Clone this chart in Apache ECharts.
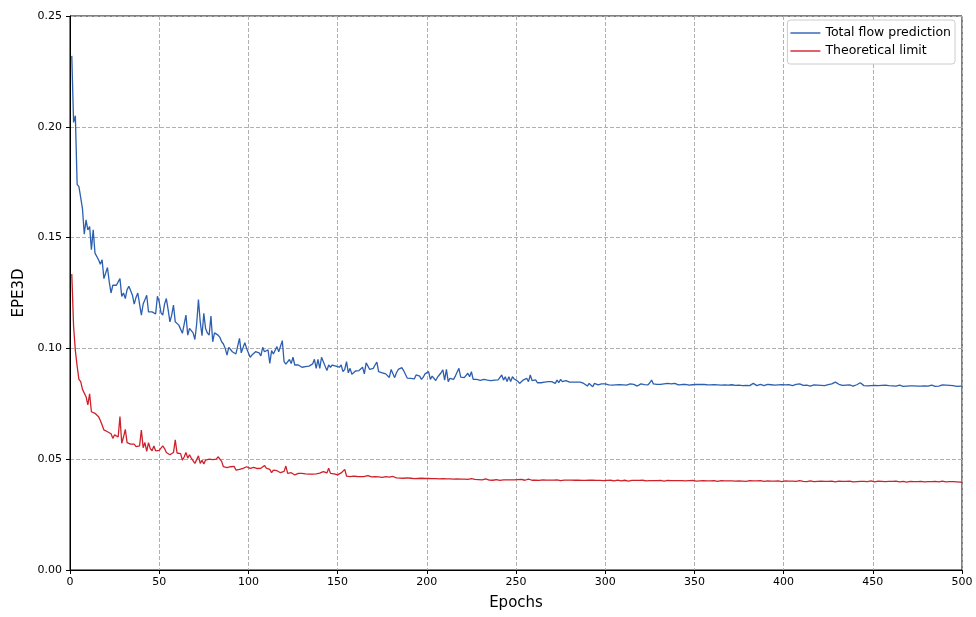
<!DOCTYPE html>
<html>
<head>
<meta charset="utf-8">
<script src="https://cdn.jsdelivr.net/npm/echarts@6/dist/echarts.min.js"></script>
<style>
    html, body { margin: 0; padding: 0; background: #fff; }
    #epeChart { width: 976px; height: 617px; }
</style>
</head>
<body>
<div id="epeChart"></div>
<script>
// EPE3D per epoch (epoch 1..500)
let totalFlow = [
    0.2320, 0.2020, 0.2050, 0.1740, 0.1730, 0.1680, 0.1630, 0.1515, 0.1580, 0.1535,
    0.1550, 0.1445, 0.1535, 0.1430, 0.1430, 0.1400, 0.1380, 0.1400, 0.1315, 0.1320,
    0.1365, 0.1300, 0.1250, 0.1285, 0.1290, 0.1285, 0.1290, 0.1315, 0.1235, 0.1250,
    0.1225, 0.1265, 0.1280, 0.1260, 0.1240, 0.1200, 0.1230, 0.1250, 0.1200, 0.1150,
    0.1200, 0.1220, 0.1240, 0.1165, 0.1170, 0.1165, 0.1160, 0.1155, 0.1235, 0.1210,
    0.1160, 0.1150, 0.1200, 0.1225, 0.1175, 0.1120, 0.1150, 0.1195, 0.1120, 0.1120,
    0.1105, 0.1110, 0.1068, 0.1110, 0.1150, 0.1060, 0.1090, 0.1085, 0.1070, 0.1040,
    0.1110, 0.1220, 0.1120, 0.1057, 0.1158, 0.1090, 0.1070, 0.1060, 0.1146, 0.1030,
    0.1070, 0.1075, 0.1060, 0.1050, 0.1030, 0.1020, 0.1000, 0.0970, 0.1005, 0.0995,
    0.0985, 0.0978, 0.0975, 0.0975, 0.1045, 0.0980, 0.0978, 0.1026, 0.1000, 0.0993,
    0.0960, 0.0970, 0.0975, 0.0985, 0.0993, 0.0980, 0.0966, 0.1005, 0.0985, 0.0978,
    0.0993, 0.0932, 0.0990, 0.0975, 0.0978, 0.1008, 0.0985, 0.1010, 0.1035, 0.0940,
    0.0929, 0.0935, 0.0950, 0.0932, 0.0960, 0.0925, 0.0925, 0.0925, 0.0922, 0.0915,
    0.0907, 0.0918, 0.0910, 0.0920, 0.0925, 0.0930, 0.0951, 0.0910, 0.0951, 0.0910,
    0.0960, 0.0940, 0.0920, 0.0900, 0.0925, 0.0915, 0.0925, 0.0924, 0.0920, 0.0920,
    0.0915, 0.0925, 0.0895, 0.0905, 0.0940, 0.0890, 0.0910, 0.0883, 0.0890, 0.0898,
    0.0895, 0.0900, 0.0903, 0.0915, 0.0885, 0.0935, 0.0920, 0.0905, 0.0900, 0.0910,
    0.0925, 0.0938, 0.0895, 0.0895, 0.0890, 0.0888, 0.0885, 0.0880, 0.0869, 0.0905,
    0.0910, 0.0868, 0.0890, 0.0905, 0.0910, 0.0913, 0.0900, 0.0905, 0.0866, 0.0860,
    0.0865, 0.0868, 0.0862, 0.0880, 0.0885, 0.0875, 0.0860, 0.0870, 0.0885, 0.0878,
    0.0895, 0.0860, 0.0875, 0.0880, 0.0855, 0.0870, 0.0880, 0.0890, 0.0903, 0.0857,
    0.0905, 0.0850, 0.0865, 0.0870, 0.0860, 0.0875, 0.0880, 0.0910, 0.0870, 0.0870,
    0.0868, 0.0865, 0.0888, 0.0872, 0.0895, 0.0860, 0.0862, 0.0860, 0.0858, 0.0856,
    0.0857, 0.0860, 0.0860, 0.0857, 0.0858, 0.0855, 0.0860, 0.0857, 0.0855, 0.0858,
    0.0854, 0.0880, 0.0857, 0.0872, 0.0850, 0.0872, 0.0850, 0.0872, 0.0862, 0.0857,
    0.0852, 0.0842, 0.0850, 0.0857, 0.0850, 0.0865, 0.0850, 0.0880, 0.0855, 0.0862,
    0.0858, 0.0845, 0.0842, 0.0845, 0.0845, 0.0848, 0.0848, 0.0850, 0.0852, 0.0850,
    0.0857, 0.0842, 0.0857, 0.0845, 0.0860, 0.0850, 0.0845, 0.0855, 0.0850, 0.0848,
    0.0852, 0.0848, 0.0850, 0.0848, 0.0845, 0.0848, 0.0845, 0.0842, 0.0845, 0.0830,
    0.0842, 0.0835, 0.0827, 0.0842, 0.0838, 0.0835, 0.0842, 0.0840, 0.0842, 0.0840,
    0.0838, 0.0835, 0.0836, 0.0834, 0.0838, 0.0835, 0.0833, 0.0836, 0.0838, 0.0835,
    0.0837, 0.0834, 0.0836, 0.0840, 0.0845, 0.0838, 0.0832, 0.0830, 0.0836, 0.0840,
    0.0846, 0.0837, 0.0840, 0.0835, 0.0845, 0.0857, 0.0840, 0.0835, 0.0838, 0.0845,
    0.0838, 0.0836, 0.0840, 0.0848, 0.0842, 0.0838, 0.0840, 0.0836, 0.0842, 0.0838,
    0.0835, 0.0840, 0.0837, 0.0833, 0.0838, 0.0836, 0.0834, 0.0838, 0.0836, 0.0835,
    0.0838, 0.0842, 0.0837, 0.0835, 0.0838, 0.0833, 0.0836, 0.0840, 0.0835, 0.0834,
    0.0836, 0.0833, 0.0835, 0.0837, 0.0834, 0.0832, 0.0835, 0.0838, 0.0834, 0.0832,
    0.0836, 0.0838, 0.0833, 0.0830, 0.0834, 0.0836, 0.0832, 0.0830, 0.0833, 0.0835,
    0.0832, 0.0838, 0.0842, 0.0835, 0.0832, 0.0836, 0.0838, 0.0834, 0.0832, 0.0836,
    0.0838, 0.0833, 0.0836, 0.0840, 0.0834, 0.0830, 0.0835, 0.0833, 0.0836, 0.0834,
    0.0835, 0.0833, 0.0836, 0.0834, 0.0832, 0.0835, 0.0838, 0.0836, 0.0840, 0.0835,
    0.0833, 0.0836, 0.0834, 0.0832, 0.0830, 0.0833, 0.0835, 0.0832, 0.0834, 0.0836,
    0.0833, 0.0835, 0.0832, 0.0834, 0.0836, 0.0838, 0.0840, 0.0843, 0.0848, 0.0842,
    0.0838, 0.0835, 0.0833, 0.0836, 0.0834, 0.0832, 0.0835, 0.0833, 0.0830, 0.0834,
    0.0836, 0.0840, 0.0845, 0.0836, 0.0832, 0.0834, 0.0831, 0.0828, 0.0832, 0.0830,
    0.0833, 0.0835, 0.0832, 0.0836, 0.0833, 0.0838, 0.0834, 0.0830, 0.0832, 0.0828,
    0.0831, 0.0833, 0.0830, 0.0832, 0.0834, 0.0831, 0.0829, 0.0832, 0.0830, 0.0833,
    0.0831, 0.0828, 0.0831, 0.0833, 0.0830, 0.0832, 0.0830, 0.0828, 0.0831, 0.0833,
    0.0830, 0.0832, 0.0834, 0.0831, 0.0829, 0.0832, 0.0830, 0.0833, 0.0835, 0.0838,
    0.0834, 0.0831, 0.0833, 0.0830, 0.0832, 0.0831, 0.0829, 0.0832, 0.0830, 0.0830
]

let theoreticalLimit = [
    0.1336, 0.1100, 0.0990, 0.0920, 0.0860, 0.0850, 0.0815, 0.0808, 0.0782, 0.0745,
    0.0795, 0.0714, 0.0720, 0.0707, 0.0705, 0.0692, 0.0675, 0.0654, 0.0632, 0.0640,
    0.0624, 0.0620, 0.0615, 0.0594, 0.0610, 0.0602, 0.0600, 0.0692, 0.0572, 0.0600,
    0.0635, 0.0575, 0.0572, 0.0568, 0.0565, 0.0568, 0.0557, 0.0552, 0.0560, 0.0632,
    0.0552, 0.0575, 0.0535, 0.0575, 0.0548, 0.0538, 0.0560, 0.0538, 0.0545, 0.0540,
    0.0550, 0.0560, 0.0548, 0.0530, 0.0528, 0.0520, 0.0528, 0.0530, 0.0587, 0.0528,
    0.0535, 0.0525, 0.0496, 0.0510, 0.0530, 0.0505, 0.0520, 0.0505, 0.0500, 0.0481,
    0.0498, 0.0515, 0.0481, 0.0495, 0.0478, 0.0496, 0.0492, 0.0500, 0.0495, 0.0498,
    0.0505, 0.0500, 0.0511, 0.0505, 0.0490, 0.0466, 0.0460, 0.0462, 0.0465, 0.0466,
    0.0462, 0.0468, 0.0451, 0.0454, 0.0454, 0.0458, 0.0459, 0.0463, 0.0466, 0.0472,
    0.0459, 0.0461, 0.0463, 0.0466, 0.0458, 0.0454, 0.0459, 0.0451, 0.0472, 0.0460,
    0.0457, 0.0454, 0.0439, 0.0451, 0.0444, 0.0448, 0.0454, 0.0439, 0.0444, 0.0445,
    0.0469, 0.0436, 0.0438, 0.0439, 0.0434, 0.0429, 0.0433, 0.0436, 0.0435, 0.0436,
    0.0436, 0.0434, 0.0433, 0.0433, 0.0432, 0.0433, 0.0432, 0.0434, 0.0436, 0.0437,
    0.0439, 0.0444, 0.0439, 0.0438, 0.0459, 0.0436, 0.0436, 0.0434, 0.0433, 0.0429,
    0.0436, 0.0438, 0.0444, 0.0454, 0.0424, 0.0423, 0.0421, 0.0422, 0.0424, 0.0423,
    0.0422, 0.0424, 0.0421, 0.0424, 0.0422, 0.0421, 0.0426, 0.0418, 0.0420, 0.0422,
    0.0421, 0.0423, 0.0420, 0.0429, 0.0418, 0.0420, 0.0421, 0.0423, 0.0419, 0.0421,
    0.0422, 0.0418, 0.0416, 0.0417, 0.0415, 0.0416, 0.0414, 0.0415, 0.0416, 0.0413,
    0.0414, 0.0415, 0.0412, 0.0414, 0.0413, 0.0411, 0.0414, 0.0412, 0.0413, 0.0411,
    0.0413, 0.0414, 0.0412, 0.0410, 0.0412, 0.0414, 0.0411, 0.0409, 0.0412, 0.0415,
    0.0411, 0.0409, 0.0411, 0.0413, 0.0410, 0.0408, 0.0411, 0.0409, 0.0410, 0.0408,
    0.0410, 0.0412, 0.0409, 0.0418, 0.0412, 0.0409, 0.0409, 0.0407, 0.0408, 0.0406,
    0.0407, 0.0409, 0.0411, 0.0408, 0.0406, 0.0407, 0.0405, 0.0407, 0.0408, 0.0406,
    0.0404, 0.0406, 0.0407, 0.0405, 0.0407, 0.0409, 0.0407, 0.0405, 0.0407, 0.0406,
    0.0408, 0.0407, 0.0409, 0.0407, 0.0405, 0.0406, 0.0410, 0.0408, 0.0405, 0.0403,
    0.0405, 0.0406, 0.0404, 0.0406, 0.0407, 0.0405, 0.0406, 0.0408, 0.0406, 0.0404,
    0.0406, 0.0405, 0.0407, 0.0405, 0.0403, 0.0405, 0.0406, 0.0404, 0.0406, 0.0408,
    0.0406, 0.0404, 0.0405, 0.0403, 0.0405, 0.0406, 0.0404, 0.0402, 0.0404, 0.0406,
    0.0405, 0.0403, 0.0405, 0.0407, 0.0404, 0.0402, 0.0404, 0.0405, 0.0403, 0.0404,
    0.0404, 0.0403, 0.0405, 0.0403, 0.0402, 0.0404, 0.0406, 0.0404, 0.0402, 0.0403,
    0.0405, 0.0403, 0.0401, 0.0403, 0.0404, 0.0402, 0.0404, 0.0406, 0.0404, 0.0403,
    0.0405, 0.0403, 0.0402, 0.0404, 0.0403, 0.0401, 0.0403, 0.0405, 0.0403, 0.0402,
    0.0404, 0.0403, 0.0401, 0.0403, 0.0404, 0.0402, 0.0403, 0.0405, 0.0403, 0.0402,
    0.0403, 0.0401, 0.0403, 0.0404, 0.0402, 0.0401, 0.0403, 0.0402, 0.0404, 0.0402,
    0.0401, 0.0403, 0.0402, 0.0404, 0.0403, 0.0401, 0.0402, 0.0404, 0.0402, 0.0401,
    0.0403, 0.0402, 0.0400, 0.0402, 0.0403, 0.0401, 0.0402, 0.0404, 0.0402, 0.0401,
    0.0402, 0.0403, 0.0401, 0.0400, 0.0402, 0.0403, 0.0401, 0.0402, 0.0400, 0.0402,
    0.0403, 0.0401, 0.0402, 0.0400, 0.0402, 0.0401, 0.0403, 0.0402, 0.0400, 0.0401,
    0.0402, 0.0400, 0.0401, 0.0403, 0.0401, 0.0400, 0.0402, 0.0401, 0.0399, 0.0401,
    0.0402, 0.0400, 0.0401, 0.0399, 0.0401, 0.0402, 0.0400, 0.0401, 0.0403, 0.0401,
    0.0400, 0.0401, 0.0399, 0.0400, 0.0402, 0.0400, 0.0399, 0.0401, 0.0400, 0.0402,
    0.0401, 0.0399, 0.0400, 0.0402, 0.0400, 0.0399, 0.0401, 0.0400, 0.0398, 0.0400,
    0.0401, 0.0399, 0.0400, 0.0402, 0.0400, 0.0399, 0.0401, 0.0400, 0.0398, 0.0400,
    0.0399, 0.0401, 0.0400, 0.0398, 0.0400, 0.0401, 0.0399, 0.0400, 0.0402, 0.0400,
    0.0398, 0.0400, 0.0401, 0.0399, 0.0400, 0.0398, 0.0399, 0.0401, 0.0400, 0.0398,
    0.0400, 0.0399, 0.0401, 0.0400, 0.0398, 0.0399, 0.0400, 0.0399, 0.0397, 0.0399,
    0.0400, 0.0398, 0.0399, 0.0401, 0.0399, 0.0398, 0.0400, 0.0399, 0.0398, 0.0400,
    0.0399, 0.0401, 0.0399, 0.0398, 0.0400, 0.0399, 0.0398, 0.0400, 0.0401, 0.0399,
    0.0398, 0.0400, 0.0399, 0.0398, 0.0399, 0.0400, 0.0398, 0.0399, 0.0397, 0.0396
]

let seriesNames = ['Total flow prediction', 'Theoretical limit']
let seriesColors = ['#2c5fb0', '#d0212b']

// 坐标轴刻度
let xMin = 0, xMax = 500, xStep = 50
let yMin = 0, yMax = 0.25, yStep = 0.05

var myChart = echarts.init(document.getElementById('epeChart'));

let font = 'DejaVu Sans'
let splitStyle = { show: true, lineStyle: { color: '#b0b0b0', type: [4, 2], width: 1 } }

var option = {
    animation: false,
    backgroundColor: '#fff',
    grid: {
        left: 70, right: 14, top: 16, bottom: 47,
        show: true,
        borderColor: '#000',
        borderWidth: 1
    },
    // 图例：只画短线，不画圆点
    legend: {
        orient: 'vertical',
        right: 21,
        top: 20,
        data: seriesNames,
        icon: 'rect',
        itemWidth: 30,
        itemHeight: 1.4,
        itemGap: 4,
        padding: [6, 4, 6, 3],
        backgroundColor: '#fff',
        borderColor: '#cccccc',
        borderWidth: 1,
        borderRadius: 3,
        textStyle: { fontFamily: font, fontSize: 12.5, color: '#000', lineHeight: 14 }
    },
    xAxis: {
        type: 'value',
        min: xMin, max: xMax, interval: xStep,
        name: 'Epochs',
        nameLocation: 'middle',
        nameGap: 26,
        nameTextStyle: { fontFamily: font, fontSize: 15, color: '#000' },
        axisLine: { show: true, lineStyle: { color: '#000', width: 1 } },
        axisTick: { show: true, length: 4, lineStyle: { color: '#000' } },
        axisLabel: { fontFamily: font, fontSize: 11, color: '#000', margin: 7 },
        splitLine: splitStyle
    },
    yAxis: {
        type: 'value',
        min: yMin, max: yMax, interval: yStep,
        name: 'EPE3D',
        nameLocation: 'middle',
        nameGap: 42,
        nameTextStyle: { fontFamily: font, fontSize: 15, color: '#000' },
        axisLine: { show: true, lineStyle: { color: '#000', width: 1 } },
        axisTick: { show: true, length: 4, lineStyle: { color: '#000' } },
        axisLabel: {
            fontFamily: font, fontSize: 11, color: '#000', margin: 8,
            formatter: (v) => v.toFixed(2)
        },
        splitLine: splitStyle
    },
    series: [
        {
            name: seriesNames[0],
            type: 'line',
            symbol: 'none',
            data: totalFlow.map((v, i) => [i + 1, v]),
            lineStyle: { color: seriesColors[0], width: 1.3 },
            itemStyle: { color: seriesColors[0] }
        },
        {
            name: seriesNames[1],
            type: 'line',
            symbol: 'none',
            data: theoreticalLimit.map((v, i) => [i + 1, v]),
            lineStyle: { color: seriesColors[1], width: 1.3 },
            itemStyle: { color: seriesColors[1] }
        }
    ]
};

myChart.setOption(option);
</script>
</body>
</html>
